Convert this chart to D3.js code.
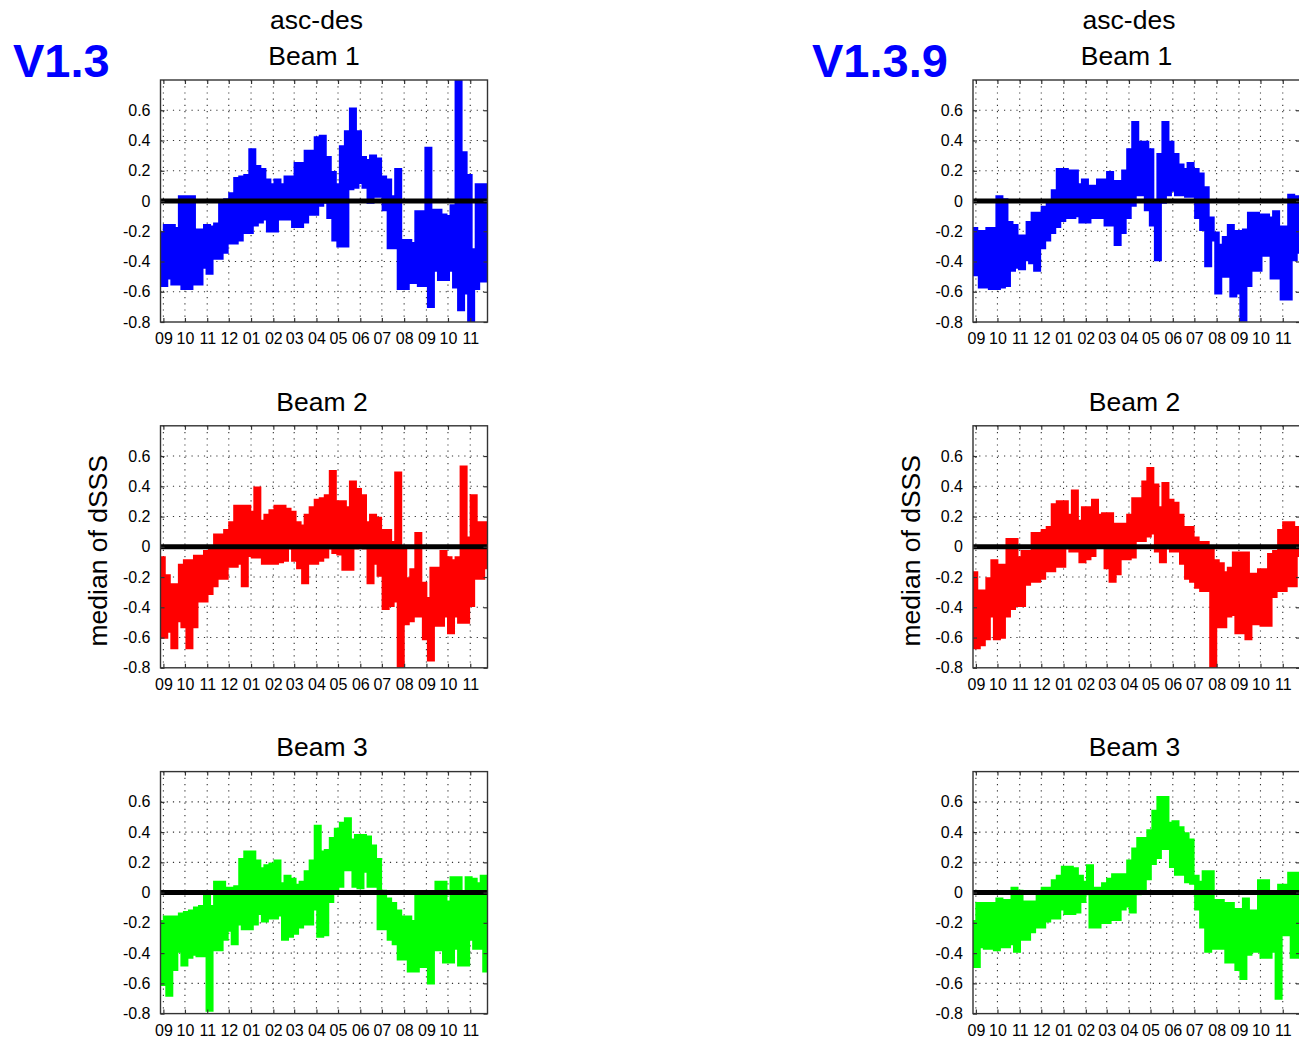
<!DOCTYPE html>
<html>
<head>
<meta charset="utf-8">
<script src="https://cdn.jsdelivr.net/npm/d3@7"></script>
<style>
  body { margin: 0; background: #fff; }
  svg { display: block; font-family: "Liberation Sans", Arial, Helvetica, sans-serif; }
</style>
</head>
<body>
<div id="chart"></div>
<script>
// Weekly bins, 2011-08-28 .. 2012-11-25
const startDate = new Date(2011, 7, 28);
const endDate = new Date(2012, 10, 25);
const weeks = d3.timeDay.range(startDate, endDate, 7);

const yTicks = [-0.8, -0.6, -0.4, -0.2, 0, 0.2, 0.4, 0.6];
const versions = ["V1.3", "V1.3.9"];
const beams = ["Beam 1", "Beam 2", "Beam 3"];

// upper / lower envelope of the median dSSS for each week
const v13_b1_hi = [-0.22,-0.17,-0.17,-0.19,0.02,0.02,0.02,-0.20,-0.20,-0.17,
  -0.18,-0.16,-0.02,0.00,0.04,0.14,0.15,0.16,0.33,0.22,
  0.20,0.13,0.10,0.13,0.10,0.15,0.15,0.24,0.24,0.32,
  0.32,0.41,0.42,0.28,0.18,0.10,0.35,0.45,0.60,0.45,
  0.28,0.26,0.29,0.27,0.15,0.13,0.02,0.20,-0.27,-0.27,
  -0.29,-0.08,-0.08,0.34,-0.07,-0.07,-0.10,-0.11,-0.04,0.80,
  0.31,0.16,-0.33,0.10,0.10];
const v13_b1_lo = [-0.55,-0.50,-0.54,-0.54,-0.57,-0.57,-0.54,-0.54,-0.43,-0.47,
  -0.37,-0.37,-0.33,-0.27,-0.27,-0.25,-0.20,-0.20,-0.15,-0.13,
  -0.11,-0.19,-0.19,-0.11,-0.11,-0.11,-0.16,-0.16,-0.13,-0.08,
  -0.08,-0.02,0.00,-0.10,-0.25,-0.29,-0.29,0.09,0.10,0.13,
  0.10,0.00,0.04,0.04,-0.05,-0.30,-0.30,-0.57,-0.57,-0.53,
  -0.53,-0.55,-0.55,-0.69,-0.45,-0.51,-0.51,-0.45,-0.56,-0.71,
  -0.60,-0.80,-0.57,-0.52,-0.52];

const v13_b2_hi = [-0.08,-0.20,-0.26,-0.26,-0.13,-0.10,-0.10,-0.07,-0.07,-0.04,
  -0.02,0.07,0.07,0.10,0.15,0.26,0.26,0.26,0.22,0.38,
  0.16,0.20,0.23,0.26,0.26,0.24,0.22,0.15,0.13,0.20,
  0.25,0.30,0.31,0.33,0.49,0.29,0.29,0.25,0.42,0.37,
  0.33,0.15,0.20,0.18,0.10,0.10,0.02,0.48,-0.02,-0.22,
  -0.16,0.08,-0.25,-0.35,-0.15,-0.15,-0.04,-0.08,-0.10,-0.08,
  0.52,0.05,0.33,0.15,0.15];
const v13_b2_lo = [-0.59,-0.55,-0.66,-0.48,-0.52,-0.66,-0.52,-0.35,-0.35,-0.30,
  -0.25,-0.20,-0.20,-0.12,-0.12,-0.10,-0.25,-0.05,-0.06,-0.06,
  -0.10,-0.10,-0.10,-0.09,-0.08,0.00,-0.08,-0.13,-0.23,-0.10,
  -0.10,-0.08,-0.06,0.00,-0.03,-0.04,-0.14,-0.14,0.00,0.02,
  0.00,-0.23,-0.10,-0.18,-0.40,-0.38,-0.35,-0.80,-0.50,-0.48,
  -0.45,-0.45,-0.60,-0.74,-0.51,-0.51,-0.45,-0.56,-0.45,-0.49,
  -0.49,-0.38,-0.20,-0.20,-0.13];

const v13_b3_hi = [-0.20,-0.17,-0.17,-0.17,-0.15,-0.14,-0.13,-0.11,-0.10,-0.03,
  -0.10,0.06,0.06,0.02,0.02,0.03,0.21,0.26,0.26,0.20,
  0.15,0.17,0.18,0.20,0.05,0.10,0.08,0.04,0.06,0.13,
  0.20,0.43,0.26,0.27,0.35,0.41,0.45,0.48,0.34,0.37,
  0.37,0.36,0.30,0.21,0.00,-0.05,-0.08,-0.13,-0.17,-0.17,
  -0.20,-0.02,-0.02,-0.02,-0.02,0.06,0.06,-0.07,0.09,0.09,
  -0.02,0.09,0.08,0.05,0.10];
const v13_b3_lo = [-0.60,-0.67,-0.50,-0.38,-0.47,-0.42,-0.40,-0.41,-0.41,-0.77,
  -0.37,-0.37,-0.30,-0.24,-0.33,-0.20,-0.23,-0.23,-0.20,-0.13,
  -0.18,-0.16,-0.16,-0.14,-0.30,-0.28,-0.26,-0.22,-0.20,-0.20,
  -0.10,-0.28,-0.27,-0.05,0.02,0.05,0.16,0.16,0.05,0.04,
  0.15,0.05,0.05,-0.23,-0.23,-0.30,-0.33,-0.43,-0.43,-0.51,
  -0.51,-0.48,-0.48,-0.59,-0.37,-0.37,-0.45,-0.45,-0.36,-0.47,
  -0.47,-0.30,-0.36,-0.36,-0.51];

const v139_b1_hi = [-0.19,-0.21,-0.21,-0.19,-0.19,0.02,0.00,-0.15,-0.17,-0.24,
  -0.24,-0.15,-0.09,-0.09,-0.05,-0.02,0.06,0.20,0.20,0.19,
  0.19,0.10,0.13,0.09,0.09,0.13,0.13,0.18,0.12,0.12,
  0.19,0.33,0.51,0.38,0.38,0.33,-0.03,0.30,0.51,0.38,
  0.30,0.23,0.20,0.24,0.20,0.17,0.08,-0.12,-0.22,-0.30,
  -0.25,-0.17,-0.21,-0.21,-0.20,-0.09,-0.09,-0.10,-0.10,-0.12,
  -0.08,-0.18,-0.18,0.03,0.02];
const v139_b1_lo = [-0.48,-0.56,-0.56,-0.57,-0.57,-0.56,-0.55,-0.45,-0.43,-0.44,
  -0.38,-0.40,-0.45,-0.30,-0.25,-0.20,-0.16,-0.12,-0.10,-0.10,
  -0.09,-0.13,-0.13,-0.10,-0.10,-0.10,-0.15,-0.15,-0.28,-0.20,
  -0.10,-0.02,0.05,0.05,-0.05,-0.15,-0.38,0.00,0.05,0.08,
  0.05,0.05,0.04,0.04,-0.10,-0.18,-0.42,-0.25,-0.60,-0.49,
  -0.49,-0.62,-0.60,-0.78,-0.55,-0.45,-0.45,-0.35,-0.35,-0.50,
  -0.50,-0.64,-0.64,-0.38,-0.33];

const v139_b2_hi = [-0.18,-0.30,-0.30,-0.22,-0.10,-0.13,-0.13,0.04,0.04,-0.08,
  -0.04,-0.04,0.08,0.08,0.10,0.12,0.27,0.29,0.29,0.20,
  0.36,0.16,0.25,0.25,0.30,0.20,0.21,0.21,0.14,0.14,
  0.14,0.20,0.31,0.31,0.42,0.51,0.40,0.25,0.41,0.30,
  0.28,0.20,0.12,0.12,0.05,0.02,0.02,-0.02,-0.10,-0.12,
  -0.18,-0.15,-0.05,-0.05,-0.05,-0.19,-0.19,-0.16,-0.16,-0.06,
  -0.04,0.10,0.15,0.15,0.12];
const v139_b2_lo = [-0.66,-0.64,-0.60,-0.45,-0.60,-0.59,-0.45,-0.40,-0.38,-0.38,
  -0.24,-0.22,-0.22,-0.20,-0.15,-0.15,-0.12,-0.12,0.00,-0.02,
  -0.02,-0.09,-0.07,-0.05,0.03,0.01,-0.13,-0.22,-0.17,-0.07,
  -0.07,-0.06,0.05,0.05,0.08,0.10,-0.02,-0.09,0.00,-0.02,
  -0.02,-0.10,-0.20,-0.22,-0.26,-0.28,-0.28,-0.80,-0.52,-0.52,
  -0.45,-0.44,-0.56,-0.56,-0.60,-0.50,-0.50,-0.51,-0.51,-0.32,
  -0.28,-0.28,-0.25,-0.25,-0.05];

const v139_b3_hi = [-0.20,-0.08,-0.08,-0.08,-0.08,-0.05,-0.06,-0.06,0.02,0.00,
  -0.07,-0.07,-0.07,-0.03,0.02,0.02,0.07,0.10,0.16,0.16,
  0.15,0.10,0.06,0.17,0.02,0.02,0.05,0.08,0.11,0.11,
  0.11,0.20,0.28,0.35,0.35,0.40,0.53,0.62,0.62,0.45,
  0.46,0.42,0.38,0.34,0.10,0.06,0.13,0.13,-0.06,-0.06,
  -0.08,-0.08,-0.12,-0.12,-0.05,-0.13,-0.13,0.07,0.07,-0.02,
  -0.03,0.04,0.04,0.12,0.12];
const v139_b3_lo = [-0.48,-0.35,-0.36,-0.36,-0.37,-0.35,-0.35,-0.33,-0.38,-0.30,
  -0.30,-0.25,-0.22,-0.22,-0.18,-0.16,-0.16,-0.10,-0.13,-0.13,
  -0.12,-0.05,0.00,-0.22,-0.22,-0.19,-0.19,-0.17,-0.17,-0.10,
  -0.08,-0.12,0.00,0.02,0.10,0.20,0.24,0.30,0.30,0.18,
  0.13,0.13,0.08,0.07,-0.10,-0.22,-0.38,-0.36,-0.36,-0.36,
  -0.45,-0.45,-0.50,-0.56,-0.40,-0.38,-0.38,-0.42,-0.42,-0.38,
  -0.69,-0.27,-0.27,-0.42,-0.42];

const panels = [
  {col: 0, row: 0, hi: v13_b1_hi, lo: v13_b1_lo, color: "#0000ff"},
  {col: 0, row: 1, hi: v13_b2_hi, lo: v13_b2_lo, color: "#ff0000"},
  {col: 0, row: 2, hi: v13_b3_hi, lo: v13_b3_lo, color: "#00ff00"},
  {col: 1, row: 0, hi: v139_b1_hi, lo: v139_b1_lo, color: "#0000ff"},
  {col: 1, row: 1, hi: v139_b2_hi, lo: v139_b2_lo, color: "#ff0000"},
  {col: 1, row: 2, hi: v139_b3_hi, lo: v139_b3_lo, color: "#00ff00"}
];

// Layout
const W = 1299, H = 1038;
const colX = [160.5, 973];
const rowY = [80, 425.8, 771.6];
const pw = 327, ph = 242;

const svg = d3.select("#chart").append("svg")
    .attr("width", W)
    .attr("height", H);

const x = d3.scaleTime().domain([startDate, endDate]).range([0, pw]);
const y = d3.scaleLinear().domain([-0.8, 0.8]).range([ph, 0]);
const months = d3.timeMonth.range(d3.timeMonth.ceil(startDate), endDate);

const line = d3.line()
    .x(d => x(d[0]))
    .y(d => y(d[1]))
    .curve(d3.curveStepAfter);

const yFmt = d => d === 0 ? "0" : d.toFixed(1);

panels.forEach((p, k) => {
    const g = svg.append("g")
        .attr("transform", `translate(${colX[p.col]},${rowY[p.row]})`);

    g.append("clipPath").attr("id", "clip" + k)
      .append("rect").attr("width", pw).attr("height", ph);

    // dotted grid
    const grid = g.append("g")
        .attr("stroke", "#333")
        .attr("stroke-width", 1.1)
        .attr("stroke-dasharray", "1.2,5");
    grid.selectAll(".vg").data(months).enter().append("line")
        .attr("x1", d => x(d)).attr("x2", d => x(d))
        .attr("y1", 0).attr("y2", ph);
    grid.selectAll(".hg").data(yTicks.filter(v => v > -0.8)).enter().append("line")
        .attr("x1", 0).attr("x2", pw)
        .attr("y1", d => y(d)).attr("y2", d => y(d));

    // stair line through the weekly upper/lower values
    const pts = [];
    weeks.forEach((d, i) => {
        pts.push([d, p.hi[i]]);
        pts.push([d3.timeHour.offset(d, 84), p.lo[i]]);
    });
    pts.push([endDate, p.lo[p.lo.length - 1]]);

    const plot = g.append("g").attr("clip-path", `url(#clip${k})`);
    plot.append("path")
        .attr("d", line(pts))
        .attr("fill", "none")
        .attr("stroke", p.color)
        .attr("stroke-width", 5.5)
        .attr("stroke-linejoin", "miter");

    // zero line
    plot.append("line")
        .attr("x1", 0).attr("x2", pw)
        .attr("y1", y(0)).attr("y2", y(0))
        .attr("stroke", "#000")
        .attr("stroke-width", 5);

    // axes
    g.append("g")
        .attr("transform", `translate(0,${ph})`)
        .call(d3.axisBottom(x).tickValues(months).tickFormat(d3.timeFormat("%m"))
            .tickSize(-4).tickPadding(11))
        .call(a => a.select(".domain").remove());
    g.append("g")
        .call(d3.axisTop(x).tickValues(months).tickFormat("").tickSize(-4))
        .call(a => a.select(".domain").remove());
    g.append("g")
        .call(d3.axisLeft(y).tickValues(yTicks).tickFormat(yFmt)
            .tickSize(-4).tickPadding(10))
        .call(a => a.select(".domain").remove());
    g.append("g")
        .attr("transform", `translate(${pw},0)`)
        .call(d3.axisRight(y).tickValues(yTicks).tickFormat("").tickSize(-4))
        .call(a => a.select(".domain").remove());

    g.selectAll(".tick line").attr("stroke", "#333").attr("stroke-width", 1.2);
    g.selectAll(".tick text")
        .attr("font-family", "'Liberation Sans', Arial, sans-serif")
        .attr("font-size", 16)
        .attr("fill", "#000");

    g.append("rect")
        .attr("width", pw).attr("height", ph)
        .attr("fill", "none")
        .attr("stroke", "#333")
        .attr("stroke-width", 1.4);

    // titles
    const cx = pw / 2;
    if (p.row === 0) {
        g.append("text")
            .attr("x", cx - 7.5).attr("y", -51.5)
            .attr("text-anchor", "middle")
            .attr("font-size", 26.5)
            .text("asc-des");
    }
    g.append("text")
        .attr("x", cx + (p.row === 0 ? -10 : -2))
        .attr("y", p.row === 0 ? -15 : -15.2)
        .attr("text-anchor", "middle")
        .attr("font-size", 26.5)
        .text(beams[p.row]);

    if (p.row === 1) {
        g.append("text")
            .attr("transform", `translate(-53.5,${ph / 2 + 4}) rotate(-90)`)
            .attr("text-anchor", "middle")
            .attr("font-size", 26.5)
            .text("median of dSSS");
    }
});

// version labels
svg.selectAll(".ver").data(versions).enter().append("text")
    .attr("x", (d, i) => i === 0 ? 13 : 812)
    .attr("y", 77)
    .attr("font-size", 47)
    .attr("font-weight", "bold")
    .attr("fill", "#0000ff")
    .text(d => d);
</script>
</body>
</html>
